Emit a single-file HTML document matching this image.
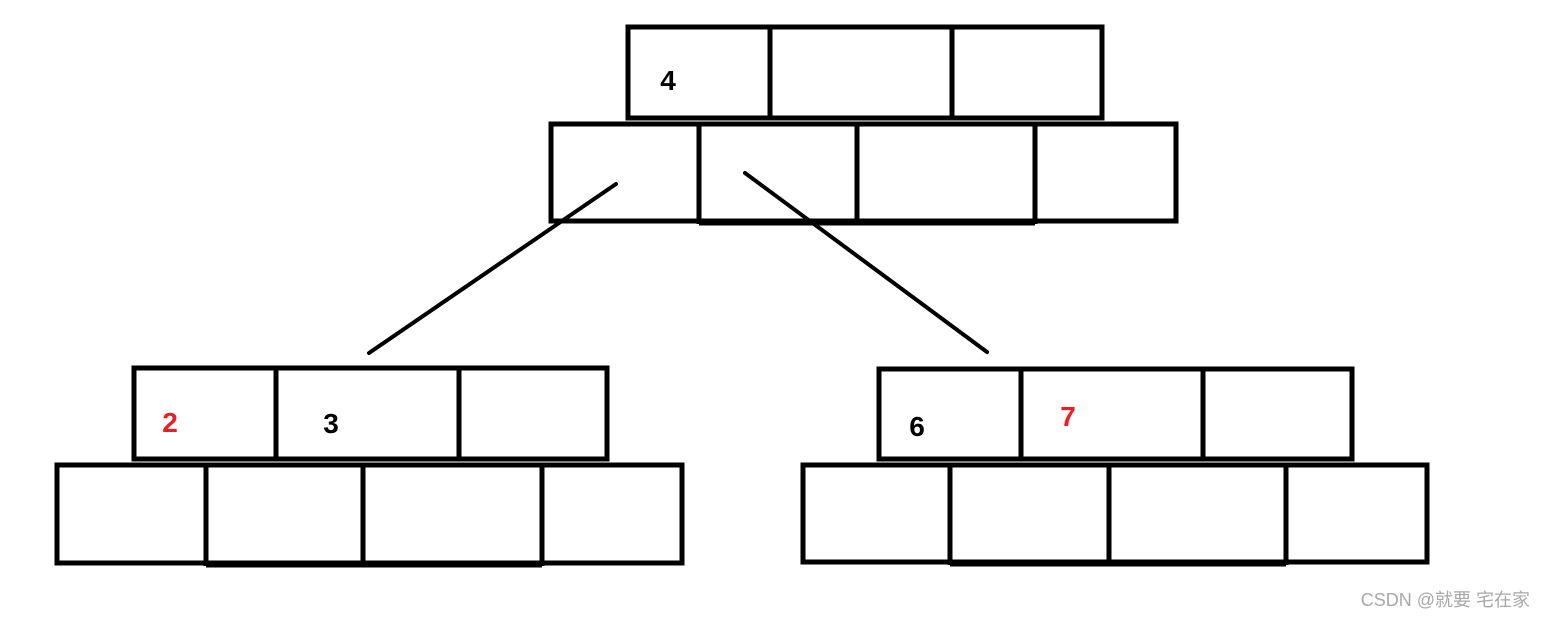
<!DOCTYPE html>
<html><head><meta charset="utf-8"><style>
html,body{margin:0;padding:0;background:#fff;width:1546px;height:618px;overflow:hidden}
svg{display:block}
text{font-family:"Liberation Sans",sans-serif;font-weight:bold;font-size:28px}
</style></head><body>
<svg width="1546" height="618" viewBox="0 0 1546 618" xmlns="http://www.w3.org/2000/svg">
<g fill="none" stroke="#000" stroke-width="5">
<!-- top -->
<rect x="628" y="27" width="474" height="91"/>
<line x1="770" y1="27" x2="770" y2="118"/><line x1="952" y1="27" x2="952" y2="118"/>
<rect x="551" y="124" width="625" height="97"/>
<line x1="699" y1="124" x2="699" y2="224"/><line x1="857" y1="124" x2="857" y2="224"/><line x1="1035" y1="124" x2="1035" y2="224"/>
<line x1="699" y1="223" x2="1035" y2="223"/>
<!-- left -->
<rect x="134" y="368" width="473" height="91"/>
<line x1="276" y1="368" x2="276" y2="459"/><line x1="459" y1="368" x2="459" y2="459"/>
<rect x="57" y="465" width="625" height="98"/>
<line x1="206" y1="465" x2="206" y2="566"/><line x1="363" y1="465" x2="363" y2="566"/><line x1="542" y1="465" x2="542" y2="566"/>
<line x1="206" y1="565" x2="542" y2="565"/>
<!-- right -->
<rect x="879" y="369" width="473" height="90"/>
<line x1="1021" y1="369" x2="1021" y2="459"/><line x1="1203" y1="369" x2="1203" y2="459"/>
<rect x="803" y="465" width="624" height="97"/>
<line x1="950" y1="465" x2="950" y2="565"/><line x1="1109" y1="465" x2="1109" y2="565"/><line x1="1286" y1="465" x2="1286" y2="565"/>
<line x1="950" y1="564" x2="1286" y2="564"/>
</g>
<g stroke="#000" stroke-width="4" stroke-linecap="round">
<line x1="616" y1="184" x2="369" y2="353"/>
<line x1="745" y1="173" x2="987" y2="352"/>
</g>
<text x="668" y="90" text-anchor="middle" fill="#000">4</text>
<text x="170" y="432" text-anchor="middle" fill="#ee1c24">2</text>
<text x="331" y="433" text-anchor="middle" fill="#000">3</text>
<text x="917" y="436" text-anchor="middle" fill="#000">6</text>
<text x="1068" y="426" text-anchor="middle" fill="#ee1c24">7</text>
<text x="1530" y="606" text-anchor="end" fill="#a8a8a8" style="font-weight:normal;font-size:18px;font-family:'Liberation Sans','Noto Sans CJK SC',sans-serif">CSDN @就要 宅在家</text>
</svg>
</body></html>
